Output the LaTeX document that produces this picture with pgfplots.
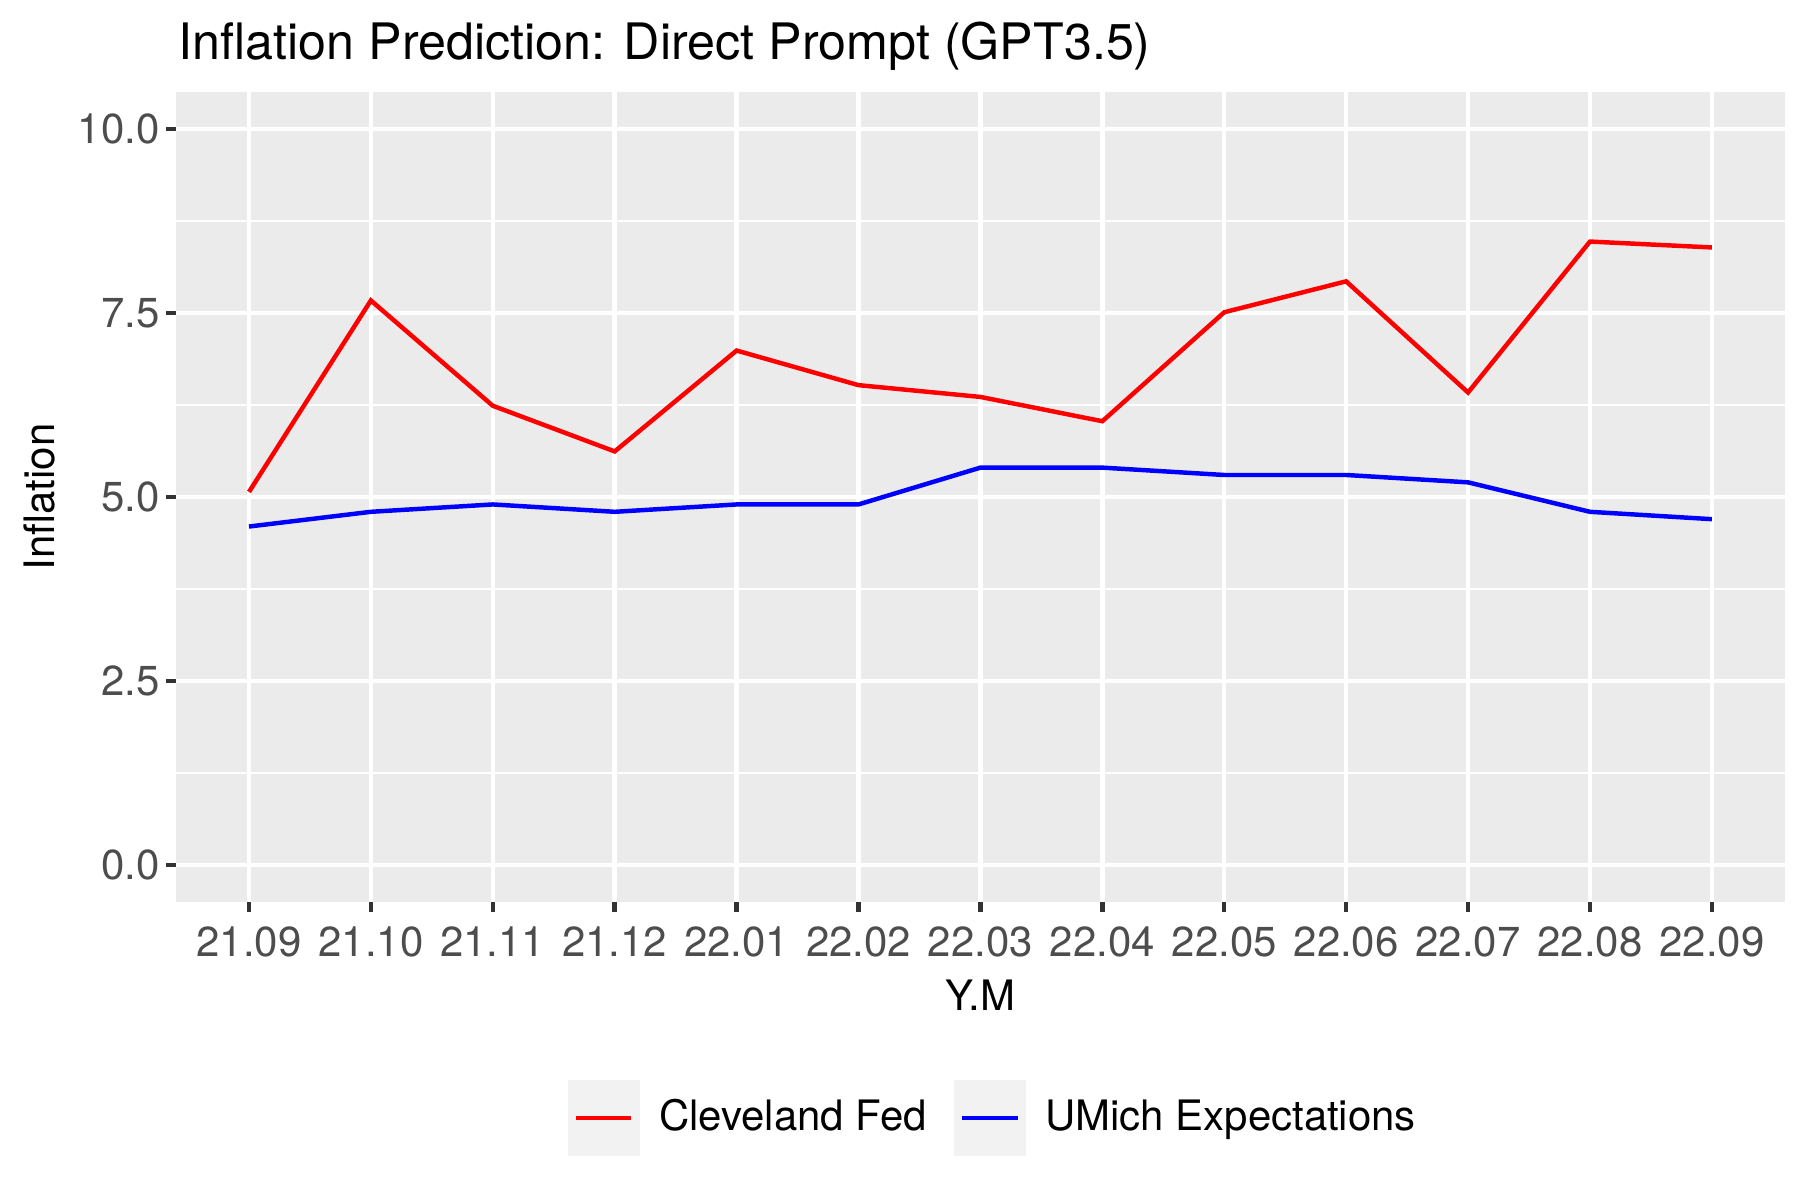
\documentclass[border=0pt]{standalone}
\usepackage{pgfplots}
\pgfplotsset{compat=1.18}
\usepackage{fontspec}
\setmainfont{TeX Gyre Heros}

\definecolor{panelbg}{HTML}{EBEBEB}
\definecolor{keybg}{HTML}{F2F2F2}
\definecolor{tickgrey}{HTML}{333333}
\definecolor{labgrey}{HTML}{4D4D4D}

\begin{document}
\begin{tikzpicture}
\path[use as bounding box] (0,0) rectangle (432bp,288bp);
\begin{axis}[
    at={(42.2bp,71.5bp)}, anchor=south west,
    scale only axis, width=386.2bp, height=194.4bp,
    xmin=-0.6, xmax=12.6, ymin=-0.5, ymax=10.5,
    axis background/.style={fill=panelbg},
    axis line style={draw=none},
    xtick={0,...,12},
    xticklabels={21.09,21.10,21.11,21.12,22.01,22.02,22.03,22.04,22.05,22.06,22.07,22.08,22.09},
    ytick={0,2.5,5,7.5,10},
    yticklabels={0.0,2.5,5.0,7.5,10.0},
    minor ytick={1.25,3.75,6.25,8.75},
    grid=both,
    major grid style={white, line width=1.07bp},
    minor grid style={white, line width=0.53bp},
    tick pos=left,
    tick align=outside,
    major tick length=2.4bp, minor tick length=0pt,
    tick style={tickgrey, line width=1.07bp},
    ticklabel style={font=\fontsize{10.1}{12}\selectfont, text=labgrey},
    yticklabel style={xshift=2bp},
    xlabel={Y.M}, ylabel={Inflation},
    label style={font=\fontsize{10.1}{12}\selectfont},
    xlabel style={at={(axis description cs:0.5,-0.1147)}, anchor=center},
    ylabel style={at={(axis description cs:-0.0845,0.5)}, anchor=center},
    title={Inflation Prediction: Direct Prompt (GPT3.5)},
    every axis title/.style={at={(axis description cs:0,1)}, anchor=base west,
        inner sep=0pt, yshift=7.9bp, xshift=0.5bp,
        font=\fontsize{12.1}{14}\selectfont},
    legend columns=2,
    legend image code/.code={
        \fill[keybg] (0bp,-8.64bp) rectangle (16.2bp,8.64bp);
        \draw[#1] (1.4bp,0bp) -- (14.8bp,0bp);
    },
    legend style={at={(axis description cs:0.5096,-0.2665)}, anchor=center,
        draw=none, fill=none, font=\fontsize{10.1}{12}\selectfont,
        /tikz/every odd column/.append style={column sep=2.7bp},
        /tikz/every even column/.append style={column sep=4.5bp}},
]
\addplot[red, line width=1.07bp] coordinates {
    (0,5.07) (1,7.67) (2,6.24) (3,5.62) (4,6.99) (5,6.52) (6,6.36)
    (7,6.03) (8,7.51) (9,7.93) (10,6.42) (11,8.47) (12,8.39)
};
\addlegendentry{Cleveland Fed}
\addplot[blue, line width=1.07bp] coordinates {
    (0,4.6) (1,4.8) (2,4.9) (3,4.8) (4,4.9) (5,4.9) (6,5.4)
    (7,5.4) (8,5.3) (9,5.3) (10,5.2) (11,4.8) (12,4.7)
};
\addlegendentry{UMich Expectations}
\end{axis}
\end{tikzpicture}
\end{document}
